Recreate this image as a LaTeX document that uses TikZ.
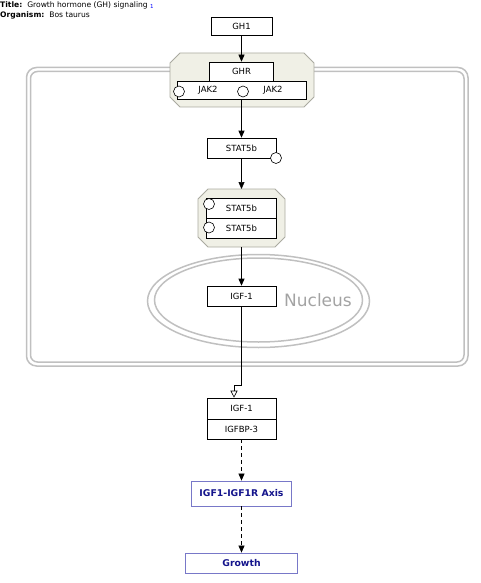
\documentclass[tikz,border=0pt]{standalone}
\usepackage{fontspec}
\setmainfont{DejaVu Sans}
\usepackage{xcolor}
\usetikzlibrary{arrows.meta}

\definecolor{cellgray}{RGB}{192,192,192}
\definecolor{cplxfill}{RGB}{240,240,230}
\definecolor{cplxline}{RGB}{170,170,160}
\definecolor{navy}{RGB}{20,20,140}
\definecolor{navyline}{RGB}{120,120,200}

% octagonal complex outline round a named node
\newcommand{\cplxframe}[1]{%
  \draw[cplxline,fill=cplxfill,line width=0.8pt]
    ([yshift=-10pt]#1.north west) -- ([xshift=10pt]#1.north west) --
    ([xshift=-10pt]#1.north east) -- ([yshift=-10pt]#1.north east) --
    ([yshift=10pt]#1.south east) -- ([xshift=-10pt]#1.south east) --
    ([xshift=10pt]#1.south west) -- ([yshift=10pt]#1.south west) -- cycle;}

\begin{document}
\begin{tikzpicture}[x=1pt,y=-1pt,every node/.style={font=\fontsize{8.5}{9}\selectfont},
  gene/.style={draw,fill=white,line width=0.6pt,minimum width=69pt,minimum height=20pt,inner sep=0pt},
  cplx/.style={inner sep=0pt,outer sep=0pt},
  state/.style={circle,draw,fill=white,line width=0.6pt,minimum size=11pt,inner sep=0pt},
  path/.style={draw=navyline,fill=white,line width=0.8pt,text=navy,font=\fontsize{9.3}{10}\selectfont\bfseries,inner sep=0pt},
  link/.style={line width=0.6pt,-{Triangle[length=7pt,width=6pt]}}]
\useasboundingbox (0,0) rectangle (480,583);

% header
\node[anchor=west,inner sep=0pt,font=\fontsize{7.6}{9}\selectfont] (title) at (0,5) {\textbf{Title:}\ \ Growth hormone (GH) signaling \raisebox{-1.5pt}{\color{blue}\fontsize{5.5}{6}\selectfont 1}};
\node[anchor=west,inner sep=0pt,font=\fontsize{7.6}{9}\selectfont] (organism) at (0,15.5) {\textbf{Organism:}\ \ Bos taurus};

% cell membrane
\draw[cellgray,line width=1.5pt,rounded corners=10pt] (26.5,67.5) rectangle (468,366);
\draw[cellgray,line width=1.5pt,rounded corners=7pt] (30.5,71.5) rectangle (464,362);

% nucleus
\draw[cellgray,line width=1.5pt] (258.5,301) ellipse [x radius=111,y radius=46.5];
\draw[cellgray,line width=1.5pt] (258.5,300) ellipse [x radius=104,y radius=42];
\node[text=cellgray!85!black,font=\fontsize{17}{18}\selectfont] (nuclabel) at (318,300) {Nucleus};

% complexes
\node[cplx,minimum width=144pt,minimum height=54pt] (cplxghr) at (242,80) {};
\node[cplx,minimum width=87pt,minimum height=58pt] (cplxstat) at (241.5,218) {};
\cplxframe{cplxghr}
\cplxframe{cplxstat}

% gene products
\node[gene,minimum width=61pt,minimum height=18pt] (gh1) at (241.5,26) {GH1};
\node[gene,minimum width=64pt,minimum height=19pt] (ghr) at (241.5,71.5) {GHR};
\node[gene,minimum width=129pt,minimum height=18pt] (jak) at (241.5,90) {};
\node (jak2a) at (208,90) {JAK2};
\node (jak2b) at (273,90) {JAK2};
\node[state] (pjak2a) at (179,91.5) {};
\node[state] (pjak2b) at (243,91.5) {};

\node[gene] (stat5b) at (241.5,148) {STAT5b};
\node[state] (pstat5b) at (276,158) {};

\node[gene,minimum width=70pt] (stat5ba) at (241.5,208) {STAT5b};
\node[gene,minimum width=70pt] (stat5bb) at (241.5,228) {STAT5b};
\node[state] (pstat5ba) at (209,204) {};
\node[state] (pstat5bb) at (209,227.5) {};

\node[gene] (igfnuc) at (241.5,296) {IGF-1};

\node[gene,minimum height=21pt] (igf) at (241.5,408.5) {IGF-1};
\node[gene] (igfbp) at (241.5,429) {IGFBP-3};

% pathway nodes
\node[path,minimum width=100pt,minimum height=25pt] (axis) at (241.5,493.5) {IGF1-IGF1R Axis};
\node[path,minimum width=112pt,minimum height=20pt] (growth) at (241.5,563) {Growth};

% interactions
\coordinate (bend) at (234,385);
\draw[link] (gh1.south) -- (ghr.north);
\draw[link] (jak.south) -- (stat5b.north);
\draw[link] (stat5b.south) -- (cplxstat.north);
\draw[link] (cplxstat.south) -- (igfnuc.north);
\draw[line width=0.6pt,-{Triangle[open,length=7pt,width=7pt]}] (igfnuc.south) |- (bend) -- (bend |- igf.north);
\draw[link,dash pattern=on 4pt off 3pt] (igfbp.south) -- (axis.north);
\draw[link,dash pattern=on 4pt off 3pt] (axis.south) -- (growth.north);
\end{tikzpicture}
\end{document}
